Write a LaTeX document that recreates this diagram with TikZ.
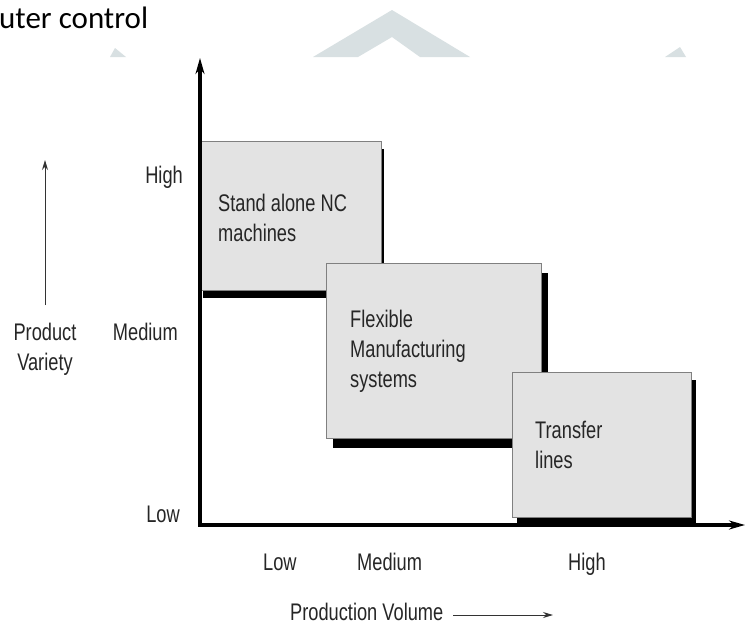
\documentclass[tikz,border=0pt]{standalone}
\usepackage{fontspec}
\setmainfont[FakeStretch=0.76]{Liberation Sans}
\newfontfamily\headfont{Carlito}
\usetikzlibrary{arrows.meta,shadows}

\definecolor{boxfill}{HTML}{E3E3E3}
\definecolor{boxedge}{HTML}{808080}
\definecolor{inkgray}{HTML}{262626}
\definecolor{markgray}{HTML}{D8E0E2}

\tikzset{
  lbl/.style={font=\fontsize{24}{30}\selectfont, text=inkgray, inner sep=0pt},
  panel/.style={draw=boxedge, fill=boxfill, line width=0.9pt, anchor=north west,
    inner sep=0pt},
  axis/.style={line width=4pt, black},
  thin arrow/.style={line width=1pt, black!80, -{Stealth[length=10pt,width=6pt]}},
}

\begin{document}
\begin{tikzpicture}[x=1pt,y=-1pt]
  % canvas
  \fill[white] (0,0) rectangle (745,625);
  \useasboundingbox (0,0) rectangle (745,625);

  % faint logo pieces in the header
  \fill[markgray] (313,57) -- (392,10) -- (470,57) -- (420,57) -- (392,37) -- (358,57) -- cycle;
  \fill[markgray] (110,57) -- (115,48) -- (126,57) -- cycle;
  \fill[markgray] (665,57) -- (680,47) -- (686,57) -- cycle;

  % running header
  \node[font=\headfont\fontsize{31}{36}\selectfont, anchor=base west, inner sep=0pt]
    (head) at (-1,28) {uter control};

  % category boxes with solid drop shadows
  \node[panel, minimum width=181pt, minimum height=149pt,
        drop shadow={shadow xshift=3pt, shadow yshift=-8pt, fill=black, opacity=1}]
    (nc) at (200,141) {};
  \node[panel, minimum width=215pt, minimum height=175pt,
        drop shadow={shadow xshift=7pt, shadow yshift=-10pt, fill=black, opacity=1}]
    (fms) at (326,263) {};
  \node[panel, minimum width=179pt, minimum height=145pt,
        drop shadow={shadow xshift=5pt, shadow yshift=-8pt, fill=black, opacity=1}]
    (tl) at (512,372) {};

  % box captions (anchored on the baseline of their last line)
  \node[lbl, anchor=base west, align=left] (nctext) at (218,241)
    {Stand alone NC\\machines};
  \node[lbl, anchor=base west, align=left] (fmstext) at (350,387)
    {Flexible\\Manufacturing\\systems};
  \node[lbl, anchor=base west, align=left] (tltext) at (535,468)
    {Transfer\\lines};

  % axes
  \coordinate (ytop) at (200,58);
  \coordinate (orig) at (200,525);
  \coordinate (xend) at (745,525);
  \draw[axis, {Stealth[length=16pt,width=9pt]}-{Stealth[length=16pt,width=9pt]}]
    (ytop) -- (orig) -- (xend);

  % variety scale
  \node[lbl, anchor=base east] (vhigh) at (183,183) {High};
  \node[lbl, anchor=base east] (vmed) at (178,340) {Medium};
  \node[lbl, anchor=base east] (vlow) at (180,522) {Low};

  \node[lbl, anchor=base, align=center] (variety) at (45,370) {Product\\Variety};
  \coordinate (vfoot) at (45,305);
  \coordinate (vhead) at (45,160);
  \draw[thin arrow] (vfoot) -- (vhead);

  % volume scale
  \node[lbl, anchor=base west] (xlow) at (263,570) {Low};
  \node[lbl, anchor=base west] (xmed) at (357,570) {Medium};
  \node[lbl, anchor=base west] (xhigh) at (568,570) {High};

  \node[lbl, anchor=base west] (volume) at (290,620) {Production Volume};
  \coordinate (hfoot) at (453,615);
  \coordinate (hhead) at (553,615);
  \draw[thin arrow] (hfoot) -- (hhead);
\end{tikzpicture}
\end{document}
